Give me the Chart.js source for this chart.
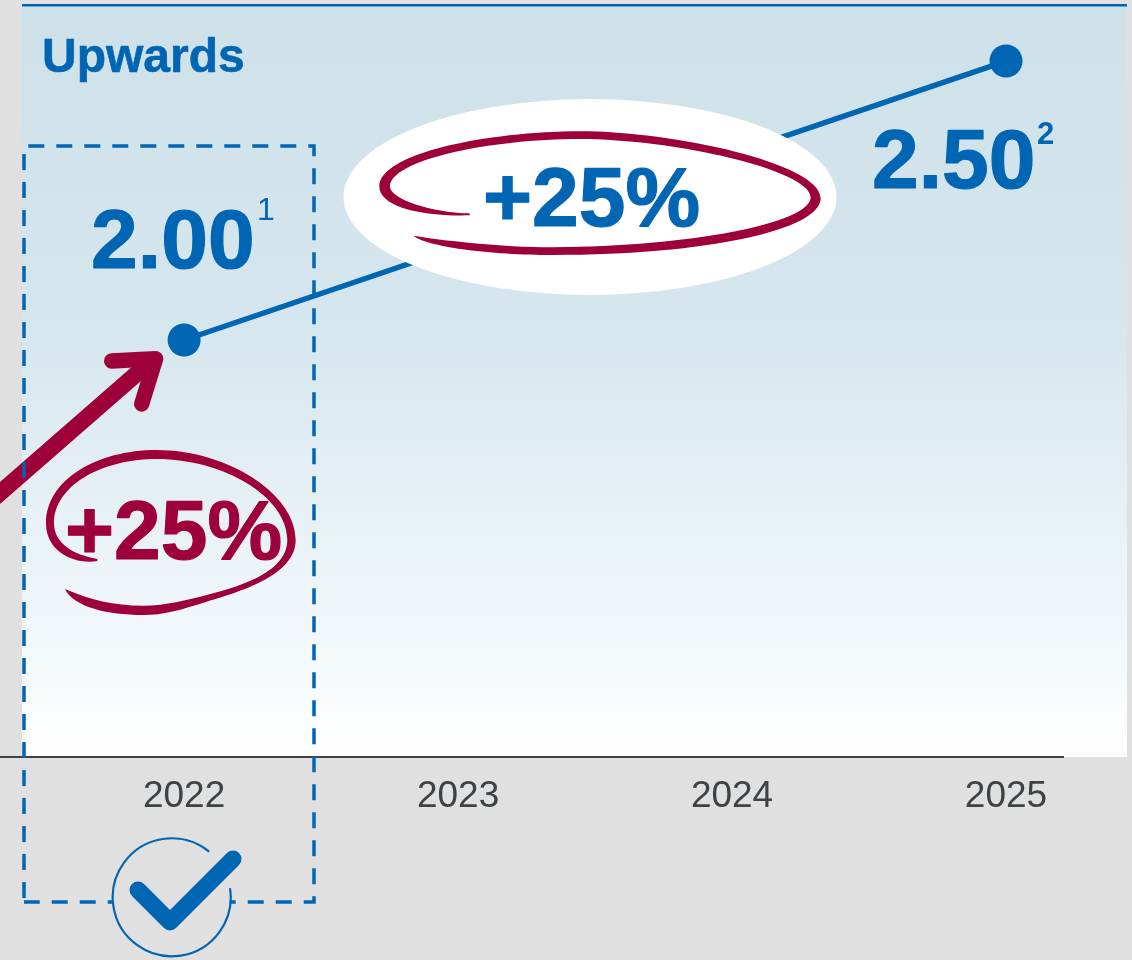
<!DOCTYPE html>
<html>
<head>
<meta charset="utf-8">
<title>Upwards</title>
<script src="https://cdn.jsdelivr.net/npm/chart.js@4"></script>
<style>
    html, body { margin: 0; padding: 0; background: #e0e0e0; overflow: hidden; }
    canvas { display: block; }
</style>
</head>
<body>
<canvas id="upwardsChart" width="1132" height="960"></canvas>
<script>
// Chart data
const years = [2022, 2023, 2024, 2025];
const values = [2.00, null, null, 2.50];
const valueLabels = ['2.00', null, null, '2.50'];
const footnotes = ['1', null, null, '2'];
const chartTitle = 'Upwards';
const growthLabel = '+25%';

// Axis ranges, the y axis is cut off well above zero
const xRange = [2021.328, 2025.208];
const yRange = [1.2527, 2.6004];

const BLUE = '#0066b3';
const MAROON = '#9e003a';
const GREY_BG = '#e0e0e0';
const TEXT_GREY = '#3c4245';
const FONT = '"Liberation Sans", Arial, sans-serif';

// Hand drawn strokes at 3x and scaled down when drawn
const bigLoop = 'M389,376 C230,380 118,345 118,290 C118,190 440,125 720,124 C1000,124 1442,220 1442,325 ' +
    'C1442,420 1100,495 640,495 C450,495 260,470 220,437 C300,450 480,472 640,472 ' +
    'C1050,470 1412,400 1412,322 C1412,240 1000,147 720,147 C450,147 150,210 150,290 C150,325 270,368 389,370 Z';
const smallLoop = 'M292,723 C230,735 138,700 138,610 C138,480 290,390 470,390 C680,390 887,520 887,660 ' +
    'C887,760 740,810 620,845 C540,870 490,885 430,885 C320,885 220,860 195,807 C270,840 340,857 430,857 ' +
    'C500,857 560,840 620,825 C740,795 862,750 862,660 C862,530 670,417 470,417 C300,417 162,500 162,610 ' +
    'C162,670 220,705 292,717 Z';

function drawText(ctx, text, x, y, font, color, weight = 0) {
    ctx.font = font;
    ctx.fillStyle = color;
    ctx.textAlign = 'left';
    ctx.textBaseline = 'alphabetic';
    ctx.fillText(text, x, y);
    // big bold numbers are a little heavier in the original
    if (weight > 0) {
        ctx.strokeStyle = color;
        ctx.lineWidth = weight;
        ctx.lineJoin = 'round';
        ctx.strokeText(text, x, y);
    }
}

function drawLoop(ctx, path, offsetX, offsetY) {
    ctx.save();
    ctx.translate(offsetX, offsetY);
    ctx.scale(1 / 3, 1 / 3);
    ctx.fillStyle = MAROON;
    ctx.fill(new Path2D(path));
    ctx.restore();
}

function drawArrow(ctx) {
    ctx.save();
    ctx.translate(0, 320);
    ctx.scale(1 / 3, 1 / 3);
    ctx.strokeStyle = MAROON;
    ctx.lineCap = 'round';
    ctx.lineJoin = 'round';
    ctx.lineWidth = 50;
    ctx.beginPath();
    ctx.moveTo(-30, 545);
    ctx.lineTo(440, 135);
    ctx.stroke();
    ctx.lineWidth = 46;
    ctx.beginPath();
    ctx.moveTo(335, 123);
    ctx.lineTo(467, 116);
    ctx.lineTo(425, 252);
    ctx.stroke();
    ctx.restore();
}

function drawDashedBox(ctx) {
    ctx.save();
    ctx.strokeStyle = BLUE;
    ctx.lineWidth = 3.5;
    ctx.setLineDash([16, 12]);
    ctx.lineDashOffset = -4.3;
    ctx.beginPath();
    ctx.moveTo(24, 146);
    ctx.lineTo(314, 146);
    ctx.lineTo(314, 902);
    ctx.lineTo(24, 902);
    ctx.stroke();
    ctx.lineDashOffset = 0;
    ctx.beginPath();
    ctx.moveTo(24, 898);
    ctx.lineTo(24, 146);
    ctx.stroke();
    ctx.restore();
}

function drawCheck(ctx) {
    const cx = 171.7, cy = 897.3, r = 59;
    ctx.save();
    ctx.fillStyle = GREY_BG;
    ctx.beginPath();
    ctx.arc(cx, cy, r, 0, Math.PI * 2);
    ctx.fill();
    ctx.strokeStyle = BLUE;
    ctx.lineWidth = 2.2;
    ctx.beginPath();
    ctx.arc(cx, cy, r, -8.9 * Math.PI / 180, 309.4 * Math.PI / 180);
    ctx.stroke();
    ctx.lineWidth = 17;
    ctx.lineCap = 'round';
    ctx.lineJoin = 'round';
    ctx.beginPath();
    ctx.moveTo(138, 890);
    ctx.lineTo(170, 922);
    ctx.lineTo(233, 859);
    ctx.stroke();
    ctx.restore();
}

// Panel behind the plot
const panelPlugin = {
    id: 'panel',
    beforeDraw(chart) {
        const ctx = chart.ctx;
        const gradient = ctx.createLinearGradient(0, 5, 0, 757);
        gradient.addColorStop(0, '#cee0e8');
        gradient.addColorStop(0.42, '#d5e6ee');
        gradient.addColorStop(0.8, '#eff6f9');
        gradient.addColorStop(1, '#ffffff');
        ctx.save();
        ctx.fillStyle = GREY_BG;
        ctx.fillRect(0, 0, chart.width, chart.height);
        ctx.fillStyle = gradient;
        ctx.fillRect(22, 5, 1105, 752);
        ctx.fillStyle = BLUE;
        ctx.fillRect(22, 4, 1105, 2.5);
        ctx.restore();
    }
};

// Value labels and the hand drawn notes on top of the line
const notesPlugin = {
    id: 'notes',
    afterDatasetsDraw(chart) {
        const ctx = chart.ctx;
        const x = chart.scales.x;
        const y = chart.scales.y;

        ctx.save();
        drawText(ctx, chartTitle, 42, 72, 'bold 48px ' + FONT, BLUE, 0.6);

        // White bubble sits over the line
        ctx.fillStyle = '#ffffff';
        ctx.beginPath();
        ctx.ellipse(590, 197, 246.5, 98, 0, 0, Math.PI * 2);
        ctx.fill();
        drawLoop(ctx, bigLoop, 340, 90);
        drawText(ctx, growthLabel, 483, 226, 'bold 84px ' + FONT, BLUE, 1.2);

        drawArrow(ctx);
        drawLoop(ctx, smallLoop, 0, 320);
        drawText(ctx, growthLabel, 65, 559, 'bold 84px ' + FONT, MAROON, 1.2);

        // 2.00 sits above its point, 2.50 below
        const px0 = x.getPixelForValue(years[0]);
        const py0 = y.getPixelForValue(values[0]);
        drawText(ctx, valueLabels[0], px0 - 93, py0 - 72, 'bold 84px ' + FONT, BLUE, 1.2);
        drawText(ctx, footnotes[0], px0 + 73, py0 - 120, '32px ' + FONT, BLUE);
        const px3 = x.getPixelForValue(years[3]);
        const py3 = y.getPixelForValue(values[3]);
        drawText(ctx, valueLabels[3], px3 - 134, py3 + 127, 'bold 84px ' + FONT, BLUE, 1.2);
        drawText(ctx, footnotes[3], px3 + 31, py3 + 83, 'bold 31px ' + FONT, BLUE);
        ctx.restore();

        drawDashedBox(ctx);
        drawCheck(ctx);
    }
};

new Chart(document.getElementById('upwardsChart').getContext('2d'), {
    type: 'line',
    data: {
        datasets: [{
            data: years.map((year, i) => ({ x: year, y: values[i] })),
            borderColor: BLUE,
            backgroundColor: BLUE,
            borderWidth: 5.5,
            pointRadius: 16.5,
            pointBackgroundColor: BLUE,
            pointBorderWidth: 0,
            spanGaps: true,
            tension: 0,
            clip: false
        }]
    },
    plugins: [panelPlugin, notesPlugin],
    options: {
        responsive: false,
        animation: false,
        layout: { autoPadding: false, padding: { top: 5, right: 69, left: 0, bottom: 0 } },
        plugins: {
            legend: { display: false },
            tooltip: { enabled: false }
        },
        scales: {
            x: {
                type: 'linear',
                min: xRange[0],
                max: xRange[1],
                afterBuildTicks: scale => { scale.ticks = years.map(year => ({ value: year })); },
                afterFit: scale => { scale.height = 203; },
                grid: { display: false },
                border: { display: true, color: TEXT_GREY, width: 2 },
                ticks: {
                    autoSkip: false,
                    maxRotation: 0,
                    padding: 10,
                    color: TEXT_GREY,
                    font: { family: FONT, size: 37 },
                    callback: value => String(value)
                }
            },
            y: {
                display: false,
                min: yRange[0],
                max: yRange[1]
            }
        }
    }
});
</script>
</body>
</html>
